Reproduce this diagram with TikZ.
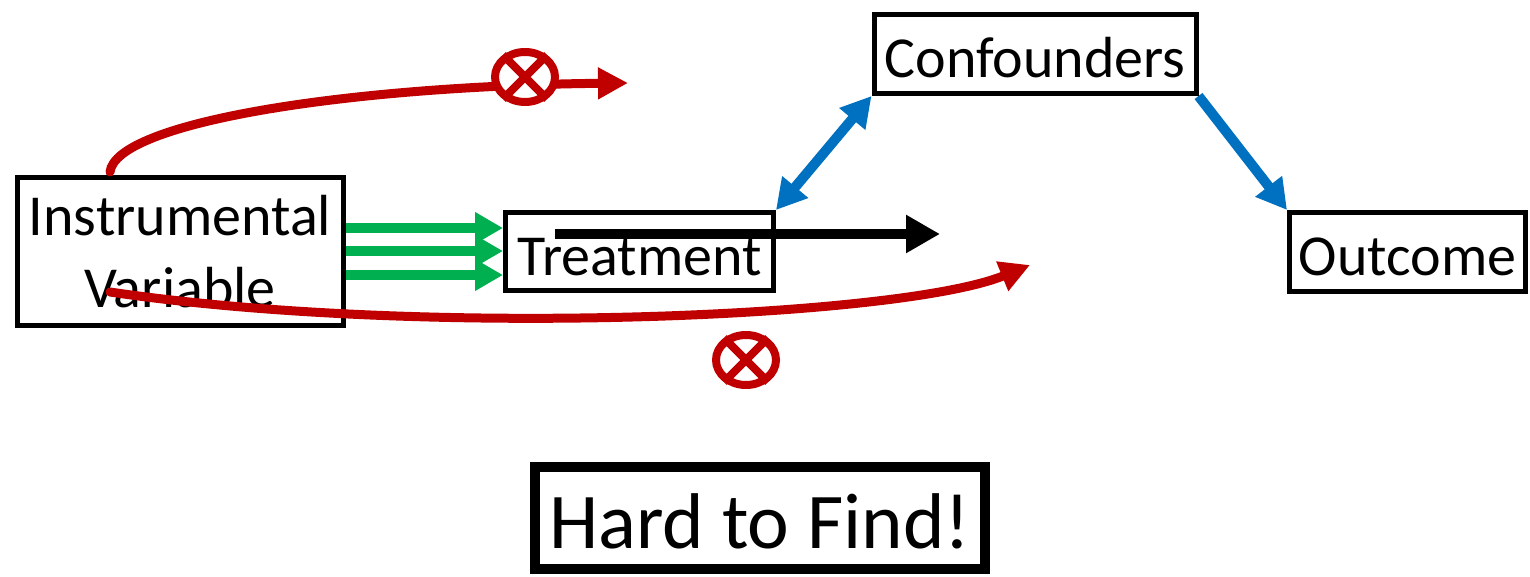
\documentclass[tikz,border=0pt]{standalone}
\usepackage{fontspec}
\setmainfont{Carlito}
\usetikzlibrary{arrows.meta,shapes.geometric}
\definecolor{cred}{HTML}{C00000}
\definecolor{cgreen}{HTML}{00B050}
\definecolor{cblue}{HTML}{0070C0}
\newcommand{\lowered}[2]{\raisebox{-#1}[\height][\depth]{#2}}
\begin{document}
\begin{tikzpicture}[x=0.5pt,y=-0.5pt,
  box/.style={draw=black,line width=2.5pt,inner sep=0pt,align=center,font=\fontsize{29}{36}\selectfont},
  garrow/.style={cgreen,line width=5pt,-{Triangle[length=14pt,width=15pt]}},
  rarrow/.style={cred,line width=4.5pt,line cap=round,-{Triangle[length=15pt,width=15pt]}},
  barrow/.style={cblue,line width=5pt,-{Triangle[length=15pt,width=16pt]}},
  bdarrow/.style={cblue,line width=5pt,{Triangle[length=15pt,width=16pt]}-{Triangle[length=15pt,width=16pt]}},
  karrow/.style={black,line width=5pt,-{Triangle[length=17pt,width=18pt]}},
  nomark/.style={ellipse,draw=cred,fill=white,line width=4pt,minimum width=30pt,minimum height=25pt,inner sep=0pt}
]
\useasboundingbox[fill=white] (0,0) rectangle (1530,577);
\node[box,minimum width=163pt,minimum height=74pt] (iv) at (180,251.5) {Instrumental\\Variable};
\node[box,minimum width=134pt,minimum height=39pt] (tr) at (639.5,251.5) {\lowered{3pt}{Treatment}};
\node[box,minimum width=161pt,minimum height=39.5pt] (cf) at (1035,54) {\lowered{2pt}{Confounders}};
\node[box,minimum width=118pt,minimum height=39.5pt] (oc) at (1407.5,252) {\lowered{2.5pt}{Outcome}};
\node[box,line width=5pt,minimum width=225pt,minimum height=51pt,font=\fontsize{39.5}{46}\selectfont] (hf) at (760,517.5) {\lowered{2pt}{Hard to Find!}};
% green arrows
\foreach \yy in {228,251,275}{
  \draw[garrow] (iv.east |- 0,\yy) -- (tr.west |- 0,\yy);
}
% black arrow
\coordinate (k1) at (555,234);
\coordinate (k2) at (940,234);
\draw[karrow] (k1) -- (k2);
% blue arrows
\draw[bdarrow] (tr.north east) -- (cf.south west);
\draw[barrow] (cf.south east) -- (oc.north west);
% red arrows
\coordinate (r1s) at (110,172);
\coordinate (r1e) at (628,83);
\draw[rarrow] (r1s) .. controls (116,122) and (350,86) .. (r1e);
\coordinate (r2s) at (110,292);
\coordinate (r2e) at (1030,265);
\draw[rarrow] (r2s) .. controls (420,338) and (900,318) .. (r2e);
% no marks
\node[nomark] (m1) at (525,77) {};
\draw[cred,line width=4pt] (m1.45) -- (m1.225) (m1.135) -- (m1.315);
\node[nomark] (m2) at (746,360) {};
\draw[cred,line width=4pt] (m2.45) -- (m2.225) (m2.135) -- (m2.315);
\end{tikzpicture}
\end{document}
